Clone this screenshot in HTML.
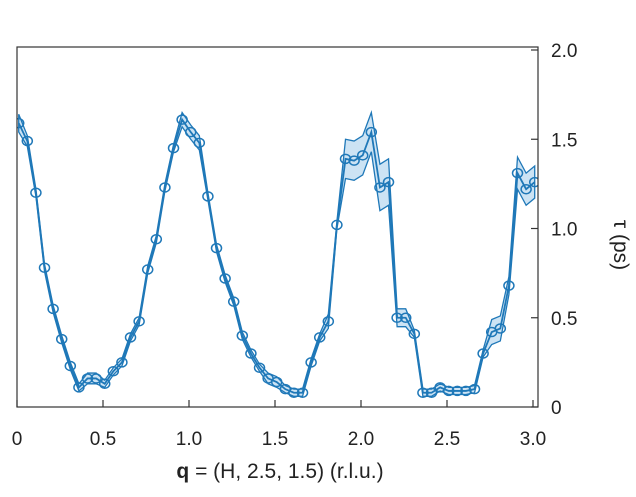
<!DOCTYPE html>
<html><head><meta charset="utf-8"><style>
body{margin:0;background:#fff;}
svg text{font-family:"Liberation Sans",sans-serif;fill:#222;}
</style></head><body>
<svg id="chart" width="636" height="492" xmlns="http://www.w3.org/2000/svg">
<g id="band"></g>
<g id="series"></g>
<g id="axes"></g>
<text x="280" y="478" font-size="21" text-anchor="middle"><tspan font-weight="bold">q</tspan> = (H, 2.5, 1.5) (r.l.u.)</text>
<text transform="translate(614,245) rotate(90)" font-size="21" text-anchor="middle">τ (ps)</text>
</svg>
<script>
const qValues=[0.01,0.06,0.11,0.16,0.21,0.26,0.31,0.36,0.41,0.46,0.51,0.56,0.61,0.66,0.71,0.76,0.81,0.86,0.91,0.96,1.01,1.06,1.11,1.16,1.21,1.26,1.31,1.36,1.41,1.46,1.51,1.56,1.61,1.66,1.71,1.76,1.81,1.86,1.91,1.96,2.01,2.06,2.11,2.16,2.21,2.26,2.31,2.36,2.41,2.46,2.51,2.56,2.61,2.66,2.71,2.76,2.81,2.86,2.91,2.96,3.01];
const tauValues=[1.59,1.49,1.20,0.78,0.55,0.38,0.23,0.11,0.16,0.16,0.13,0.20,0.25,0.39,0.48,0.77,0.94,1.23,1.45,1.61,1.54,1.48,1.18,0.89,0.72,0.59,0.40,0.30,0.22,0.16,0.14,0.10,0.08,0.08,0.25,0.39,0.48,1.02,1.39,1.38,1.41,1.54,1.23,1.26,0.50,0.50,0.41,0.08,0.08,0.11,0.09,0.09,0.09,0.10,0.30,0.42,0.44,0.68,1.31,1.22,1.26];
const tauErrors=[0.05,0.03,0.02,0.02,0.02,0.02,0.02,0.02,0.03,0.03,0.02,0.02,0.02,0.02,0.02,0.02,0.02,0.02,0.02,0.04,0.04,0.04,0.02,0.02,0.02,0.02,0.02,0.02,0.02,0.03,0.03,0.02,0.02,0.02,0.02,0.02,0.04,0.02,0.11,0.11,0.11,0.11,0.13,0.13,0.05,0.05,0.02,0.02,0.02,0.02,0.02,0.02,0.02,0.02,0.02,0.07,0.07,0.05,0.09,0.09,0.09];
const xTicks=[0,0.5,1.0,1.5,2.0,2.5,3.0];
const xTickLabels=["0","0.5","1.0","1.5","2.0","2.5","3.0"];
const yTicks=[0,0.5,1.0,1.5,2.0];
const yTickLabels=["0","0.5","1.0","1.5","2.0"];
const L=17,R=538,T=47,B=407;
const xs=q=>17+172*q;
const ys=v=>407-178.5*v;
const NS="http://www.w3.org/2000/svg";
const svg=document.getElementById('chart');
const defs=document.createElementNS(NS,'defs');
defs.innerHTML='<clipPath id="clip"><rect x="17" y="47" width="521" height="360"/></clipPath>';
svg.insertBefore(defs,svg.firstChild);
function mk(tag,attrs,parent){const e=document.createElementNS(NS,tag);for(const k in attrs)e.setAttribute(k,attrs[k]);parent.appendChild(e);return e;}
const band=document.getElementById('band');band.setAttribute('clip-path','url(#clip)');
const series=document.getElementById('series');series.setAttribute('clip-path','url(#clip)');
let up=qValues.map((q,i)=>xs(q)+','+ys(tauValues[i]+tauErrors[i]));
let lo=qValues.map((q,i)=>xs(q)+','+ys(tauValues[i]-tauErrors[i])).reverse();
const poly=mk('polygon',{points:up.concat(lo).join(' '),fill:'#cce3f4',stroke:'#1f78b8','stroke-width':1.3},band);


const line=mk('polyline',{points:qValues.map((q,i)=>xs(q)+','+ys(tauValues[i])).join(' '),fill:'none',stroke:'#1f78b8','stroke-width':1.8},series);


qValues.forEach((q,i)=>{
 const c=mk('ellipse',{cx:xs(q),cy:ys(tauValues[i]),rx:5,ry:4.5,fill:'none',stroke:'#1f78b8','stroke-width':1.5},series);
 
 
});
const ax=document.getElementById('axes');
const frame=mk('rect',{x:L,y:T,width:R-L,height:B-T,fill:'none',stroke:'#333','stroke-width':1.2},ax);


xTicks.forEach((t,i)=>{
 const tk=mk('line',{x1:xs(t),x2:xs(t),y1:B,y2:B-7,stroke:'#333','stroke-width':1.2},ax);
 
 
 const tx=mk('text',{x:xs(t),y:445,'font-size':19,'text-anchor':'middle'},ax);
 tx.textContent=xTickLabels[i];
 
 
});
yTicks.forEach((t,i)=>{
 const tk=mk('line',{x1:R-7,x2:R,y1:ys(t),y2:ys(t),stroke:'#333','stroke-width':1.2},ax);
 
 
 const tx=mk('text',{x:551,y:ys(t)+7,'font-size':19},ax);
 tx.textContent=yTickLabels[i];
 
 
});
</script>
</body></html>
